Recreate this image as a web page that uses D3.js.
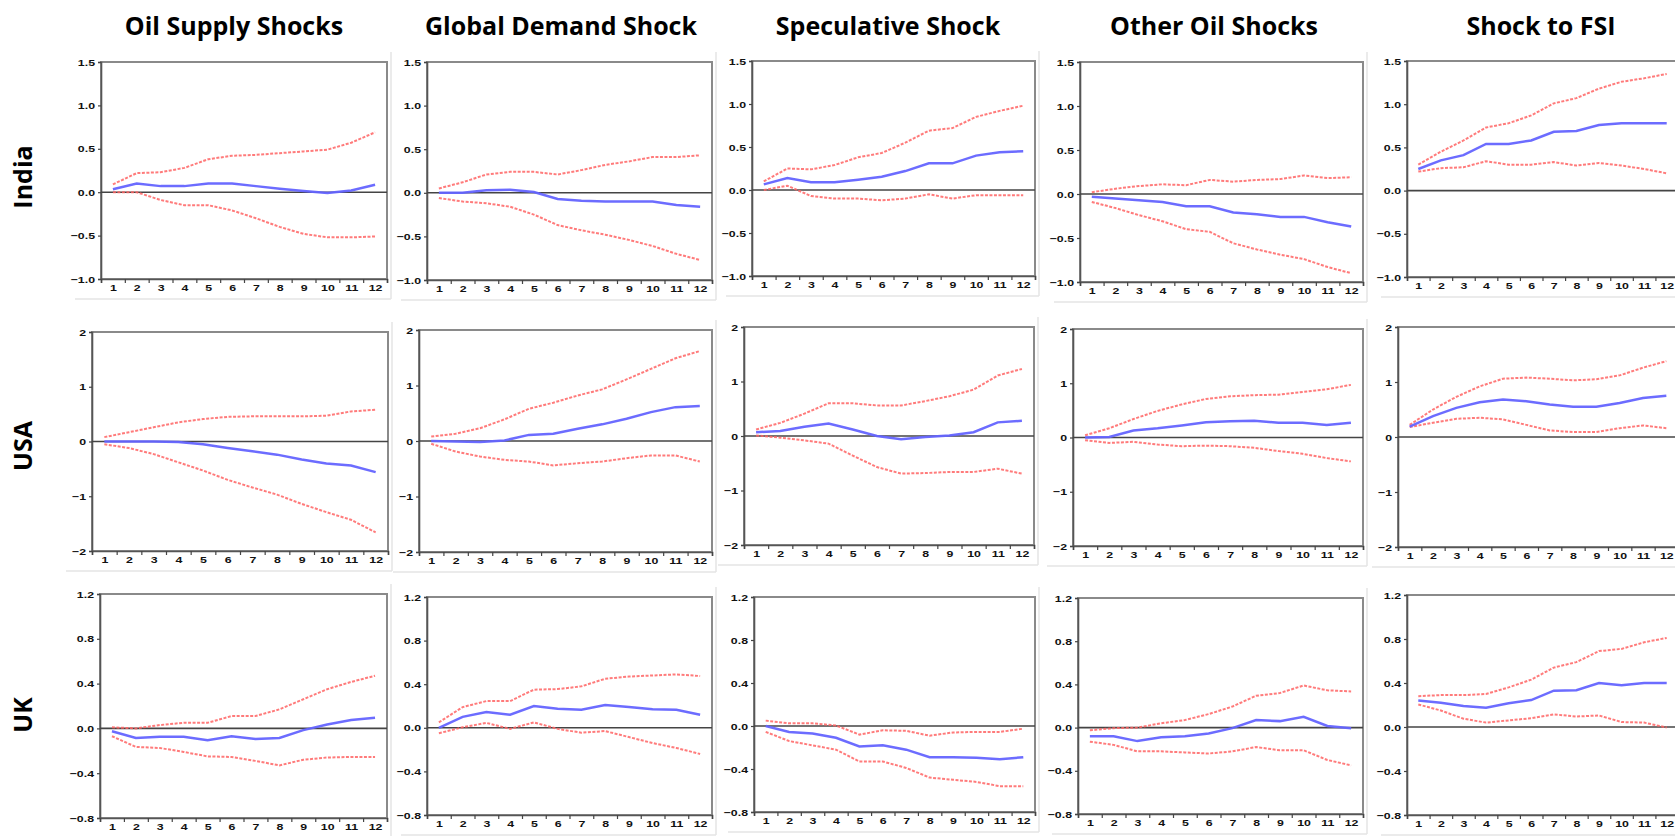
<!DOCTYPE html>
<html><head><meta charset="utf-8">
<script src="https://cdn.jsdelivr.net/npm/d3@7"></script>
<style>
html,body{margin:0;padding:0;background:#fff;overflow:hidden}
</style></head><body>
<svg id="chart" width="1675" height="836"></svg>
<script>
// ---------- DATA ----------
const shocks = ["Oil Supply Shocks", "Global Demand Shock", "Speculative Shock", "Other Oil Shocks", "Shock to FSI"];
const countries = ["India", "USA", "UK"];
const horizons = [1, 2, 3, 4, 5, 6, 7, 8, 9, 10, 11, 12];
const yTicksIndia = [1.5, 1.0, 0.5, 0.0, -0.5, -1.0];
const yTicksUSA = [2, 1, 0, -1, -2];
const yTicksUK = [1.2, 0.8, 0.4, 0.0, -0.4, -0.8];

// India (one row per shock)
const indiaResp = [
  [0.035, 0.10, 0.07, 0.07, 0.10, 0.10, 0.07, 0.04, 0.015, -0.01, 0.02, 0.085],
  [0.0, 0.0, 0.03, 0.035, 0.01, -0.07, -0.09, -0.10, -0.10, -0.10, -0.14, -0.16],
  [0.065, 0.14, 0.09, 0.09, 0.12, 0.155, 0.22, 0.31, 0.31, 0.40, 0.44, 0.45],
  [-0.03, -0.05, -0.07, -0.09, -0.14, -0.14, -0.21, -0.23, -0.26, -0.26, -0.32, -0.37],
  [0.25, 0.35, 0.41, 0.54, 0.54, 0.58, 0.68, 0.69, 0.76, 0.78, 0.78, 0.78]
];
const indiaUpper = [
  [0.09, 0.22, 0.23, 0.28, 0.38, 0.42, 0.43, 0.45, 0.47, 0.49, 0.57, 0.69],
  [0.05, 0.12, 0.21, 0.24, 0.24, 0.21, 0.26, 0.32, 0.36, 0.41, 0.41, 0.43],
  [0.10, 0.25, 0.24, 0.29, 0.38, 0.43, 0.55, 0.69, 0.72, 0.85, 0.92, 0.98],
  [0.02, 0.06, 0.09, 0.11, 0.10, 0.16, 0.14, 0.16, 0.17, 0.21, 0.18, 0.19],
  [0.30, 0.45, 0.58, 0.73, 0.78, 0.87, 1.01, 1.07, 1.18, 1.26, 1.30, 1.35]
];
const indiaLower = [
  [0.0, 0.0, -0.09, -0.15, -0.15, -0.21, -0.30, -0.40, -0.48, -0.52, -0.52, -0.51],
  [-0.06, -0.10, -0.12, -0.16, -0.25, -0.37, -0.43, -0.48, -0.54, -0.61, -0.70, -0.77],
  [0.0, 0.05, -0.07, -0.10, -0.10, -0.12, -0.10, -0.05, -0.10, -0.06, -0.06, -0.06],
  [-0.09, -0.16, -0.24, -0.31, -0.40, -0.43, -0.56, -0.63, -0.69, -0.74, -0.83, -0.90],
  [0.22, 0.26, 0.27, 0.34, 0.30, 0.30, 0.33, 0.29, 0.32, 0.29, 0.25, 0.20]
];

// USA
const usaResp = [
  [0.0, 0.0, 0.0, -0.01, -0.05, -0.12, -0.18, -0.24, -0.33, -0.40, -0.44, -0.56],
  [0.0, -0.01, -0.02, 0.01, 0.11, 0.13, 0.22, 0.30, 0.40, 0.52, 0.61, 0.63],
  [0.07, 0.09, 0.17, 0.23, 0.12, 0.0, -0.06, -0.02, 0.01, 0.07, 0.25, 0.28],
  [0.0, 0.01, 0.13, 0.17, 0.22, 0.28, 0.30, 0.31, 0.27, 0.27, 0.23, 0.27],
  [0.19, 0.38, 0.53, 0.63, 0.68, 0.65, 0.59, 0.55, 0.55, 0.62, 0.71, 0.75]
];
const usaUpper = [
  [0.08, 0.17, 0.26, 0.35, 0.41, 0.45, 0.46, 0.46, 0.46, 0.47, 0.55, 0.58],
  [0.08, 0.13, 0.23, 0.39, 0.58, 0.69, 0.82, 0.93, 1.11, 1.30, 1.49, 1.62],
  [0.12, 0.24, 0.41, 0.60, 0.60, 0.56, 0.56, 0.64, 0.73, 0.85, 1.11, 1.23],
  [0.04, 0.17, 0.34, 0.49, 0.61, 0.71, 0.76, 0.78, 0.79, 0.84, 0.89, 0.97],
  [0.22, 0.50, 0.73, 0.92, 1.06, 1.08, 1.06, 1.03, 1.05, 1.12, 1.26, 1.38]
];
const usaLower = [
  [-0.05, -0.12, -0.23, -0.38, -0.53, -0.70, -0.84, -0.97, -1.14, -1.29, -1.43, -1.66],
  [-0.05, -0.19, -0.28, -0.34, -0.37, -0.44, -0.40, -0.37, -0.31, -0.26, -0.26, -0.37],
  [0.01, -0.03, -0.08, -0.14, -0.36, -0.57, -0.69, -0.68, -0.66, -0.66, -0.60, -0.69],
  [-0.05, -0.10, -0.08, -0.13, -0.16, -0.15, -0.16, -0.19, -0.25, -0.30, -0.38, -0.44],
  [0.18, 0.26, 0.33, 0.35, 0.32, 0.22, 0.12, 0.09, 0.09, 0.16, 0.21, 0.16]
];

// UK
const ukResp = [
  [-0.025, -0.085, -0.075, -0.075, -0.105, -0.07, -0.095, -0.085, -0.015, 0.035, 0.075, 0.095],
  [0.0, 0.10, 0.145, 0.12, 0.20, 0.175, 0.165, 0.21, 0.19, 0.17, 0.165, 0.12],
  [0.0, -0.055, -0.07, -0.11, -0.19, -0.18, -0.22, -0.29, -0.29, -0.295, -0.31, -0.29],
  [-0.08, -0.08, -0.125, -0.09, -0.08, -0.055, -0.005, 0.07, 0.06, 0.10, 0.015, -0.005],
  [0.24, 0.22, 0.19, 0.175, 0.215, 0.245, 0.33, 0.335, 0.40, 0.38, 0.40, 0.40]
];
const ukUpper = [
  [0.01, 0.0, 0.03, 0.05, 0.05, 0.11, 0.11, 0.17, 0.26, 0.35, 0.415, 0.47],
  [0.05, 0.19, 0.245, 0.245, 0.35, 0.355, 0.38, 0.45, 0.47, 0.48, 0.49, 0.475],
  [0.05, 0.025, 0.025, 0.005, -0.08, -0.04, -0.045, -0.09, -0.06, -0.055, -0.055, -0.025],
  [-0.025, -0.005, 0.0, 0.04, 0.07, 0.125, 0.195, 0.295, 0.32, 0.39, 0.345, 0.335],
  [0.28, 0.29, 0.29, 0.30, 0.36, 0.43, 0.54, 0.59, 0.69, 0.71, 0.77, 0.81]
];
const ukLower = [
  [-0.07, -0.165, -0.175, -0.21, -0.25, -0.255, -0.29, -0.33, -0.28, -0.26, -0.255, -0.255],
  [-0.05, 0.005, 0.045, -0.01, 0.05, -0.01, -0.045, -0.03, -0.085, -0.14, -0.185, -0.24],
  [-0.055, -0.14, -0.18, -0.22, -0.33, -0.33, -0.39, -0.48, -0.50, -0.52, -0.56, -0.56],
  [-0.13, -0.16, -0.22, -0.22, -0.23, -0.24, -0.22, -0.18, -0.21, -0.21, -0.30, -0.35],
  [0.205, 0.15, 0.075, 0.04, 0.06, 0.08, 0.115, 0.095, 0.105, 0.045, 0.04, -0.005]
];

// ---------- LAYOUT (plot frames: left, top, right, bottom) ----------
const frames = [
  [[101, 62, 387, 279], [427, 62, 712, 280], [752, 61, 1035, 276], [1080, 62, 1363, 282], [1407, 61, 1678, 277]],
  [[92, 332, 388, 551], [419, 330, 712, 552], [744, 327, 1034, 545], [1073, 329, 1363, 546], [1398, 327, 1678, 547]],
  [[100, 594, 387, 818], [427, 597, 712, 815], [754, 597, 1035, 812], [1078, 598, 1363, 814], [1407, 595, 1678, 815]]
];
const titleX = [234, 561, 888, 1214, 1541];
const rowLabelY = [177, 446, 715];

const rowData = [
  { ticks: yTicksIndia, fmt: d3.format(".1f"), resp: indiaResp, up: indiaUpper, lo: indiaLower },
  { ticks: yTicksUSA, fmt: d3.format("d"), resp: usaResp, up: usaUpper, lo: usaLower },
  { ticks: yTicksUK, fmt: d3.format(".1f"), resp: ukResp, up: ukUpper, lo: ukLower }
];

const svg = d3.select("#chart");
const STRETCH = 1.3;
const tickFont = sel => sel
  .style("font-family", "'Liberation Sans', Arial, sans-serif")
  .style("font-weight", "700").style("font-size", "9.5px").style("fill", "#111");

// column titles
svg.selectAll("text.coltitle").data(shocks).join("text")
  .attr("class", "coltitle")
  .attr("x", (d, i) => titleX[i]).attr("y", 35)
  .attr("text-anchor", "middle")
  .style("font-family", "'Open Sans', 'Noto Sans', sans-serif")
  .style("font-weight", "700").style("font-size", "25px").style("fill", "#000")
  .text(d => d);

// row labels
svg.selectAll("text.rowtitle").data(countries).join("text")
  .attr("class", "rowtitle")
  .attr("transform", (d, i) => `translate(32,${rowLabelY[i]}) rotate(-90)`)
  .attr("text-anchor", "middle")
  .style("font-family", "'Open Sans', 'Noto Sans', sans-serif")
  .style("font-weight", "700").style("font-size", "25px").style("fill", "#000")
  .text(d => d);

const boundaries = horizons.map(h => h - 0.5).concat([horizons[horizons.length - 1] + 0.5]);

rowData.forEach((rd, r) => {
  shocks.forEach((s, c) => {
    const [L, T, R, B] = frames[r][c];
    const g = svg.append("g");
    const x = d3.scaleLinear().domain([boundaries[0], boundaries[boundaries.length - 1]]).range([L, R]);
    const y = d3.scaleLinear().domain([d3.min(rd.ticks), d3.max(rd.ticks)]).range([B, T]);

    // faint image borders
    g.append("line").attr("x1", R + 4).attr("x2", R + 4).attr("y1", T - 10).attr("y2", B + 20)
      .attr("stroke", "#e4e4e4").attr("stroke-width", 1.5);
    g.append("line").attr("x1", L - 26).attr("x2", R + 4).attr("y1", B + 20).attr("y2", B + 20)
      .attr("stroke", "#e4e4e4").attr("stroke-width", 1.5);

    // frame
    g.append("rect").attr("x", L).attr("y", T).attr("width", R - L).attr("height", B - T)
      .attr("fill", "#fff").attr("stroke", "#8a8a8a").attr("stroke-width", 2);

    // y axis
    const ya = g.append("g").attr("transform", `translate(${L},0)`)
      .call(d3.axisLeft(y).tickValues(rd.ticks).tickFormat(rd.fmt).tickSize(3).tickPadding(3));
    ya.select(".domain").attr("stroke", "#555").attr("stroke-width", 1.6);
    ya.selectAll(".tick line").attr("stroke", "#444").attr("stroke-width", 1.2);
    ya.selectAll(".tick text")
      .attr("x", -6 / STRETCH)
      .attr("transform", `scale(${STRETCH},1)`)
      .call(tickFont);

    // x axis boundary ticks
    const xb = g.append("g").attr("transform", `translate(0,${B})`)
      .call(d3.axisBottom(x).tickValues(boundaries).tickFormat("").tickSize(4));
    xb.select(".domain").attr("stroke", "#555").attr("stroke-width", 1.6);
    xb.selectAll(".tick line").attr("stroke", "#444").attr("stroke-width", 1.2);

    // x axis labels
    const xl = g.append("g").attr("transform", `translate(0,${B})`)
      .call(d3.axisBottom(x).tickValues(horizons).tickFormat(d3.format("d")).tickSize(0).tickPadding(5));
    xl.select(".domain").remove();
    xl.selectAll(".tick text")
      .attr("transform", `scale(${STRETCH},1)`)
      .call(tickFont);

    // zero line
    g.append("line").attr("x1", L).attr("x2", R).attr("y1", y(0)).attr("y2", y(0))
      .attr("stroke", "#444").attr("stroke-width", 1.6);

    const line = d3.line().x((d, i) => x(horizons[i])).y(d => y(d));

    g.append("path").datum(rd.up[c]).attr("d", line)
      .attr("fill", "none").attr("stroke", "#ff6464").attr("stroke-width", 2)
      .attr("stroke-dasharray", "3,1.5").attr("stroke-opacity", 0.85);
    g.append("path").datum(rd.lo[c]).attr("d", line)
      .attr("fill", "none").attr("stroke", "#ff6464").attr("stroke-width", 2)
      .attr("stroke-dasharray", "3,1.5").attr("stroke-opacity", 0.85);
    g.append("path").datum(rd.resp[c]).attr("d", line)
      .attr("fill", "none").attr("stroke", "#6464ff").attr("stroke-width", 2.5)
      .attr("stroke-opacity", 0.95);
  });
});
</script>
</body></html>
